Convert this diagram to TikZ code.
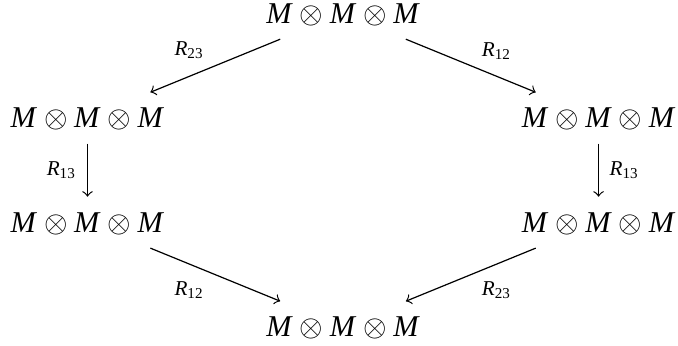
\documentclass[tikz,border=0pt]{standalone}
\usepackage{fontspec}
\setmainfont{Liberation Serif}
\usetikzlibrary{positioning}

\newcommand{\tens}{\textit{M}$\mskip\medmuskip\otimes\mskip\medmuskip$\textit{M}$\mskip\medmuskip\otimes\mskip\medmuskip$\textit{M}}
\newcommand{\rmap}[1]{$\mbox{\textit{R}}_{\mbox{\tiny #1}}$}

\begin{document}
\begin{tikzpicture}[node distance=1.215cm and 2.972cm, on grid]
    \tikzstyle{obj} = [inner xsep=3pt, inner ysep=5pt, text height=6.6pt, text depth=0pt]
    \tikzstyle{line} = [draw, ->]
    \tikzstyle{lbl} = [font=\scriptsize, inner xsep=3.5pt, inner ysep=2pt]

    \useasboundingbox (-3.99,0.157) rectangle (3.896,-3.867);

    \node [obj] (top) {\tens};
    \node [obj, below left=of top] (left1) {\tens};
    \node [obj, below right=of top] (right1) {\tens};
    \node [obj, below=of left1] (left2) {\tens};
    \node [obj, below=of right1] (right2) {\tens};
    \node [obj, below=3.645cm of top] (bottom) {\tens};

    \path [line] (top) -- node[lbl, above left] {\rmap{23}} (left1);
    \path [line] (top) -- node[lbl, above right] {\rmap{12}} (right1);
    \path [line] (left1) -- node[lbl, left] {\rmap{13}} (left2);
    \path [line] (right1) -- node[lbl, right] {\rmap{13}} (right2);
    \path [line] (left2) -- node[lbl, below left] {\rmap{12}} (bottom);
    \path [line] (right2) -- node[lbl, below right] {\rmap{23}} (bottom);
\end{tikzpicture}
\end{document}
